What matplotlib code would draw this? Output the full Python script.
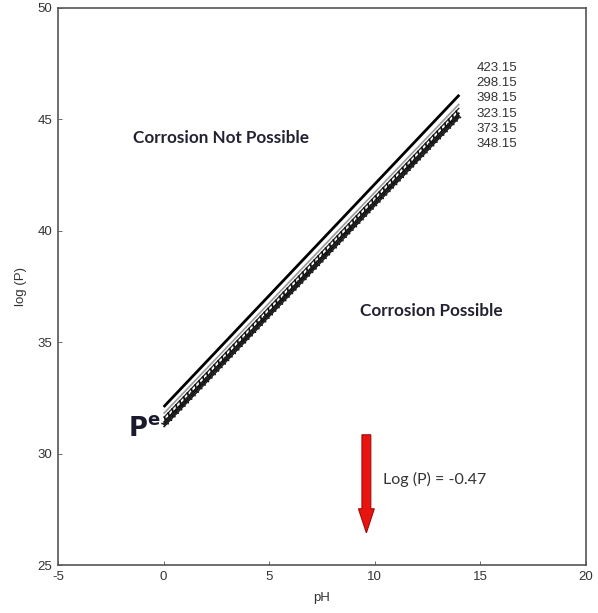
import matplotlib
matplotlib.use("Agg")
import matplotlib.pyplot as plt
import matplotlib.patheffects as pe
from matplotlib.patches import FancyArrow

plt.rcParams["axes.unicode_minus"] = False

# Equilibrium pressure lines, log(P) vs pH, one per temperature (K)
ph = [0, 14]
temps = ["423.15", "298.15", "398.15", "323.15", "373.15", "348.15"]
logp_423 = [32.1, 46.1]
logp_298 = [31.8, 45.7]
logp_398 = [31.62, 45.52]
logp_323 = [31.4, 45.3]
logp_373 = [31.3, 45.2]
logp_348 = [31.2, 45.1]

arrow_x = 9.6
arrow_top = 30.85
arrow_bottom = 26.45
arrow_label = "Log (P) = -0.47"

fig = plt.figure(figsize=(5.98, 6.13), dpi=100)
ax = fig.add_axes([0.097, 0.078, 0.883, 0.909])

ax.plot(ph, logp_423, color="black", lw=2.0, solid_capstyle="butt")
ax.plot(ph, logp_298, color="#9a9a9a", lw=1.2, solid_capstyle="butt")
ax.plot(ph, logp_398, color="#222222", lw=0.9, solid_capstyle="butt")
ax.plot(ph, logp_323, color="#111111", lw=1.0, solid_capstyle="butt",
        path_effects=[pe.withTickedStroke(angle=60, spacing=4, length=0.8,
                                          linewidth=1.3, foreground="#111111"),
                      pe.Normal()])
ax.plot(ph, logp_373, color="#111111", lw=1.0, solid_capstyle="butt",
        path_effects=[pe.withTickedStroke(angle=-60, spacing=3.5, length=0.75,
                                          linewidth=1.2, foreground="#111111"),
                      pe.Normal()])
ax.plot(ph, logp_348, color="#222222", lw=1.0, solid_capstyle="butt",
        path_effects=[pe.withTickedStroke(angle=120, spacing=5, length=0.7,
                                          linewidth=1.1, foreground="#222222"),
                      pe.Normal()])

# temperature legend as a stacked text column
for i, t in enumerate(temps):
    ax.text(14.8, 47.3 - i * 0.68, t, fontsize=9.5, family="Liberation Sans",
            color="#333333", ha="left", va="center")

ax.text(2.74, 44.15, "Corrosion Not Possible", fontsize=12.3, fontweight="bold",
        family="Lato", color="#222233", ha="center", va="center")
ax.text(12.66, 36.4, "Corrosion Possible", fontsize=12.3, fontweight="bold",
        family="Lato", color="#222233", ha="center", va="center")
ax.text(-0.15, 31.12, r"$\mathbf{P}^{\mathbf{e}}$", fontsize=18.5, color="#1a1a2e",
        ha="right", va="center", family="Lato")

ax.add_patch(FancyArrow(arrow_x, arrow_top, 0, arrow_bottom - arrow_top,
                        width=0.42, head_width=0.75, head_length=1.08,
                        length_includes_head=True, facecolor="#e8140f",
                        edgecolor="#a00a08", lw=0.8, zorder=5))
ax.text(10.4, 28.85, arrow_label, fontsize=11.5, family="Lato", color="#333333",
        ha="left", va="center")

ax.set_xlim(-5, 20)
ax.set_ylim(25, 50)
ax.set_xticks([-5, 0, 5, 10, 15, 20])
ax.set_yticks([25, 30, 35, 40, 45, 50])
ax.tick_params(direction="in", length=3, width=0.6, colors="#555555",
               labelcolor="#333333", labelsize=9.5, pad=4)
for lab in ax.get_xticklabels() + ax.get_yticklabels():
    lab.set_family("Liberation Sans")
for s in ax.spines.values():
    s.set_color("#555555")
    s.set_linewidth(1.2)

ax.set_xlabel("pH", fontsize=9.5, family="Liberation Sans", color="#333333", labelpad=7)
ax.set_ylabel("log (P)", fontsize=9.5, family="Liberation Sans", color="#333333", labelpad=8)

fig.savefig("out.png", dpi=100)
